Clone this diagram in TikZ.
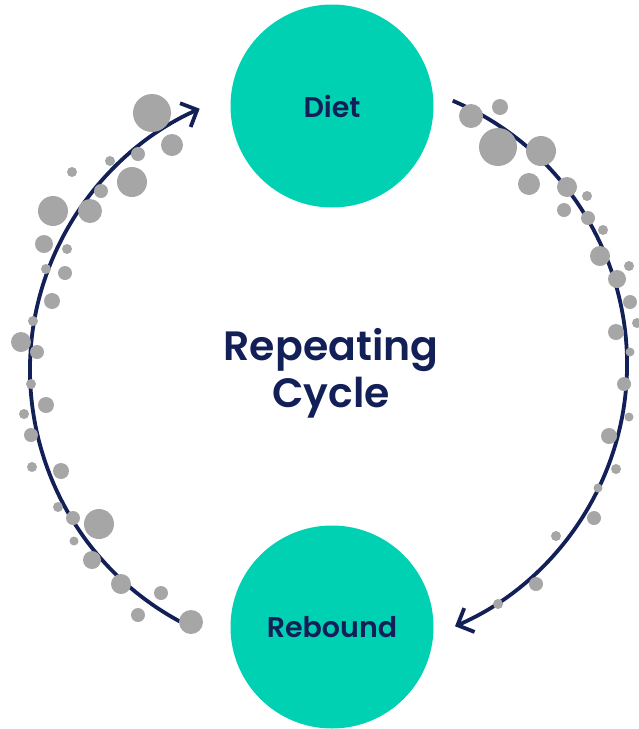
\documentclass[tikz,border=0pt]{standalone}
\usepackage{fontspec}
\setmainfont{Poppins}
\newfontfamily\psemi{Poppins SemiBold}
\usetikzlibrary{arrows.meta,calc}
\definecolor{tealc}{HTML}{00D1B2}
\definecolor{navy}{HTML}{132058}
\definecolor{dotgray}{HTML}{A6A6A6}
\begin{document}
\begin{tikzpicture}[x=1pt,y=-1pt,
  stage/.style={circle,fill=tealc,minimum size=203pt,inner sep=0pt,text=navy,
    font=\fontsize{28.5}{32}\selectfont\psemi},
  cyc/.style={draw=navy,line width=3.8pt,-{Straight Barb[length=13pt,width=26pt]}},
  dotc/.style={fill=dotgray}]
\useasboundingbox (0,0) rectangle (639,729);
\node[stage] (diet) at (332,106) {Diet};
\node[stage] (rebound) at (332,627) {Rebound};
\node[text=navy,align=center,font=\fontsize{41}{47}\selectfont\psemi] (title) at (331,373) {Repeating\\Cycle};
% arcs
\coordinate (lc) at (316,370);
\coordinate (rc) at (341,364);
\coordinate (ls) at ($(lc)+(118.5:286)$);
\coordinate (rs) at ($(rc)+(-67:286)$);
\draw[cyc] (ls) arc[start angle=118.5,end angle=246,radius=286];
\draw[cyc] (rs) arc[start angle=-67,end angle=66.5,radius=286];
% dots
\foreach \x/\y/\r in {152/113/19,172/145/11,138/154/7,110/161/5,72/172/5,132/182/15,
  101/191/7,53/211/15,90/211/12,44/244/9,67/249/5,46/269/5,65/273/7,52/301/8,
  33/321/5,21/342/10,37/352/7,31/384/5,46/405/8,24/414/5,31/435/7,32/467/5,
  61/471/8,58/507/5,73/518/7,99/524/15,74/541/4.5,92/560/9,121/584/10,161/593/7,
  138/615/7,191/622/12,
  471/116/12,500/107/8,498/147/19,541/151/15,529/184/11,567/187/10,587/196/5,
  564/210/7,588/218/7,603/230/5,600/256/10,629/266/5,617/279/9,630/302/7,
  637/323/5,616/332/8,630/352/4.5,624/384/7,629/417/4.5,609/436/8,616/469/5,
  598/488/4.5,594/518/7,556/536/5,536/584/7,498/604/5}
  \fill[dotc] (\x,\y) circle[radius=\r];
\end{tikzpicture}
\end{document}
